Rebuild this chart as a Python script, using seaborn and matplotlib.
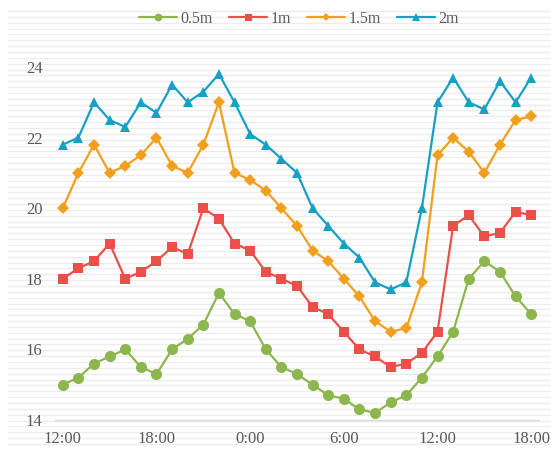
import matplotlib
matplotlib.use("Agg")
import matplotlib.pyplot as plt
import numpy as np
import pandas as pd
import seaborn as sns

# Hourly temperatures (°C) at four depths, from 12:00 to 18:00 the next day
hours = [f"{h % 24}:00" for h in range(12, 43)]
depth_labels = ["0.5m", "1m", "1.5m", "2m"]
temp_05m = [15.0, 15.2, 15.6, 15.8, 16.0, 15.5, 15.3, 16.0, 16.3, 16.7, 17.6, 17.0,
            16.8, 16.0, 15.5, 15.3, 15.0, 14.7, 14.6, 14.3, 14.2, 14.5, 14.7, 15.2,
            15.8, 16.5, 18.0, 18.5, 18.2, 17.5, 17.0]
temp_1m = [18.0, 18.3, 18.5, 19.0, 18.0, 18.2, 18.5, 18.9, 18.7, 20.0, 19.7, 19.0,
           18.8, 18.2, 18.0, 17.8, 17.2, 17.0, 16.5, 16.0, 15.8, 15.5, 15.6, 15.9,
           16.5, 19.5, 19.8, 19.2, 19.3, 19.9, 19.8]
temp_15m = [20.0, 21.0, 21.8, 21.0, 21.2, 21.5, 22.0, 21.2, 21.0, 21.8, 23.0, 21.0,
            20.8, 20.5, 20.0, 19.5, 18.8, 18.5, 18.0, 17.5, 16.8, 16.5, 16.6, 17.9,
            21.5, 22.0, 21.6, 21.0, 21.8, 22.5, 22.6]
temp_2m = [21.8, 22.0, 23.0, 22.5, 22.3, 23.0, 22.7, 23.5, 23.0, 23.3, 23.8, 23.0,
           22.1, 21.8, 21.4, 21.0, 20.0, 19.5, 19.0, 18.6, 17.9, 17.7, 17.9, 20.0,
           23.0, 23.7, 23.0, 22.8, 23.6, 23.0, 23.7]
y_ticks = [14, 16, 18, 20, 22, 24]

series = [temp_05m, temp_1m, temp_15m, temp_2m]
colors = ["#8db64f", "#e9504a", "#f0a01e", "#17a0c4"]
markers = ["o", "s", "D", "^"]
msizes = [8.0, 7.2, 5.8, 7.6]

frames = []
for lab, vals in zip(depth_labels, series):
    frames.append(pd.DataFrame({"idx": np.arange(len(hours)), "temp": vals, "depth": lab}))
df = pd.concat(frames, ignore_index=True)

sns.set_theme(style="white")
plt.rcParams["font.family"] = ["Liberation Serif", "DejaVu Serif"]

W, H = 551, 449
fig = plt.figure(figsize=(W / 100, H / 100), dpi=100)

# faint horizontal striping behind everything
bg = fig.add_axes([8 / W, 0, 1 - 8 / W, 1], zorder=0)
bg.set_xlim(0, 1)
bg.set_ylim(H, 0)
for yy in np.arange(11, H, 5.85):
    bg.axhline(yy, color="#ececec", lw=1.0)
bg.axis("off")

left, right, bottom_px, top_px = 55, 539, 420, 30
ax = fig.add_axes([left / W, 1 - bottom_px / H, (right - left) / W, (bottom_px - top_px) / H], zorder=1)
ax.patch.set_alpha(0)

handles = []
for lab, col, mk, ms in zip(depth_labels, colors, markers, msizes):
    sub = df[df["depth"] == lab]
    sns.lineplot(data=sub, x="idx", y="temp", ax=ax, color=col, lw=1.6,
                 marker=mk, markersize=ms, markeredgewidth=0, label=lab, legend=False)
    handles.append(ax.lines[-1])

ax.set_xlim(-0.5, len(hours) - 0.5)
ax.set_ylim(14, 14 + (bottom_px - top_px) / 35.3)
ax.set_yticks(y_ticks)
ax.set_yticklabels([str(v) for v in y_ticks])
xt = list(range(0, len(hours), 6))
ax.set_xticks(xt)
ax.set_xticklabels([hours[i] for i in xt])
ax.set_xlabel("")
ax.set_ylabel("")
for s in ["top", "right", "left"]:
    ax.spines[s].set_visible(False)
ax.spines["bottom"].set_color("#d9d9d9")
ax.spines["bottom"].set_linewidth(1.0)
ax.tick_params(axis="both", length=0, labelsize=12, colors="#595959")
ax.tick_params(axis="y", pad=9)
ax.tick_params(axis="x", pad=8)
ax.grid(False)

fig.legend(handles=handles, labels=depth_labels, loc="center",
           bbox_to_anchor=(299 / W, 1 - 19 / H), ncol=4, frameon=False,
           fontsize=11.5, handlelength=2.4, handletextpad=0.2, columnspacing=1.0,
           markerscale=0.7, labelcolor="#595959")

fig.savefig("out.png", dpi=100)
